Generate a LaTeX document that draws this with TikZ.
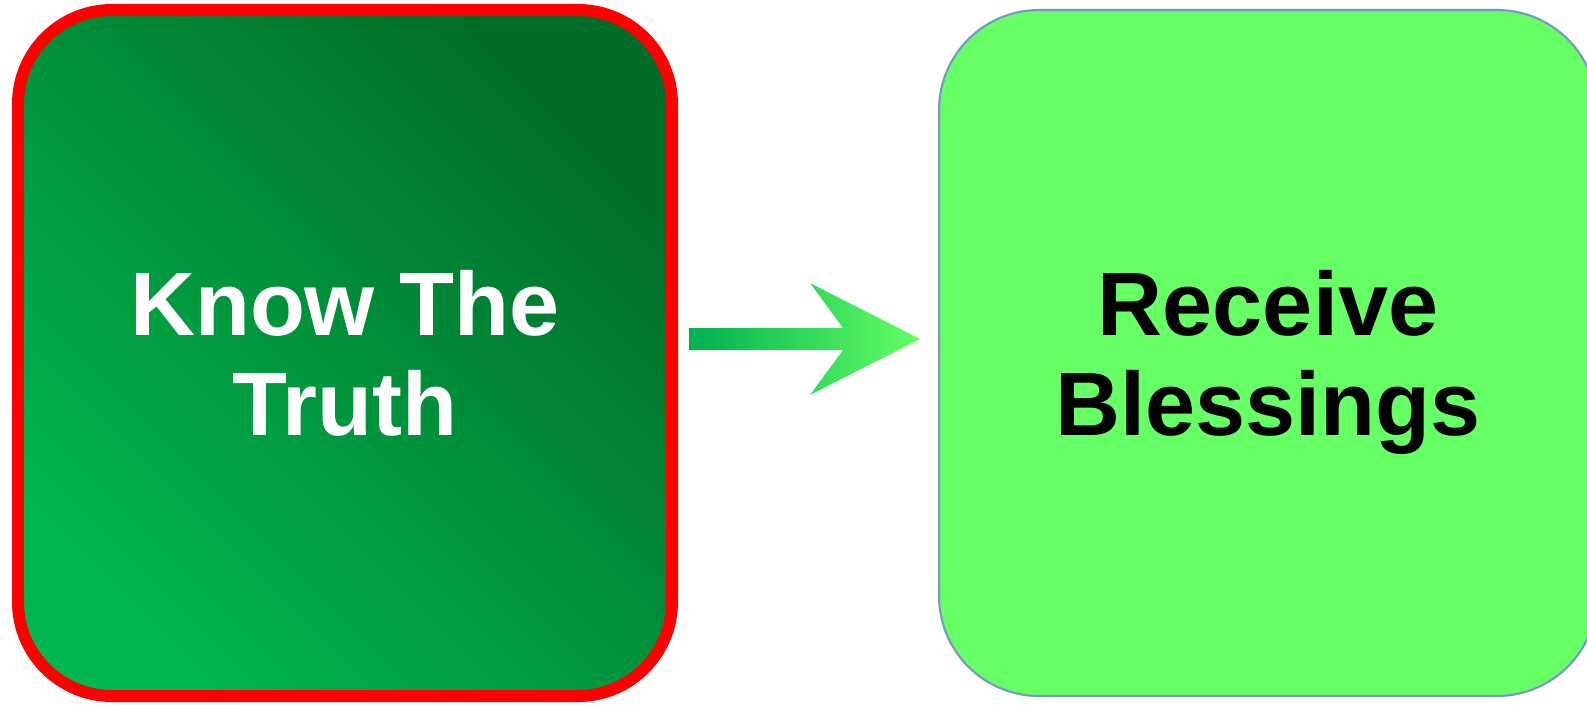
\documentclass[tikz,border=0pt]{standalone}
\usepackage{xcolor}
\usepackage{fontspec}
\setmainfont{Liberation Sans}
\usepackage{tikz}
\usetikzlibrary{positioning,calc}
\definecolor{truthdark}{RGB}{0,108,40}
\definecolor{truthlight}{RGB}{0,182,78}
\definecolor{blessgreen}{RGB}{102,255,102}
\definecolor{blessline}{RGB}{120,150,200}
\definecolor{arrowstart}{RGB}{0,176,80}

\begin{document}
\begin{tikzpicture}[
    node distance=2.6cm,
    truthbox/.style={rectangle, draw=red, line width=0.12cm, rounded corners=0.94cm, minimum width=6.54cm, minimum height=6.86cm, align=center, text=white, font=\fontsize{25.6}{28.5}\selectfont\bfseries, top color=truthdark, bottom color=truthlight, shading angle=-45},
    blessbox/.style={rectangle, draw=blessline, line width=0.6pt, rounded corners=1cm, minimum width=6.58cm, minimum height=6.86cm, align=center, text=black, text depth=0pt, font=\fontsize{25.6}{28.5}\selectfont\bfseries, fill=blessgreen},
    arrowfill/.style={left color=arrowstart, right color=blessgreen}
  ]
    \useasboundingbox (0,0) rectangle (15.87,-7.04);
    \node[truthbox] (know) at (3.45,-3.53) {Know The\\Truth};
    \node[blessbox, right=of know] (bless) {Receive\\Blessings};
    \coordinate (tail) at ($(know.east)+(0.11,0.14)$);
    \coordinate (tip) at ($(tail)+(2.31,0)$);
    \shade[arrowfill] ($(tail)+(0,0.11)$) -- ($(tail)+(1.54,0.11)$) -- ($(tail)+(1.21,0.56)$) -- (tip)
      -- ($(tail)+(1.21,-0.56)$) -- ($(tail)+(1.54,-0.11)$) -- ($(tail)+(0,-0.11)$) -- cycle;
  \end{tikzpicture}
\end{document}
